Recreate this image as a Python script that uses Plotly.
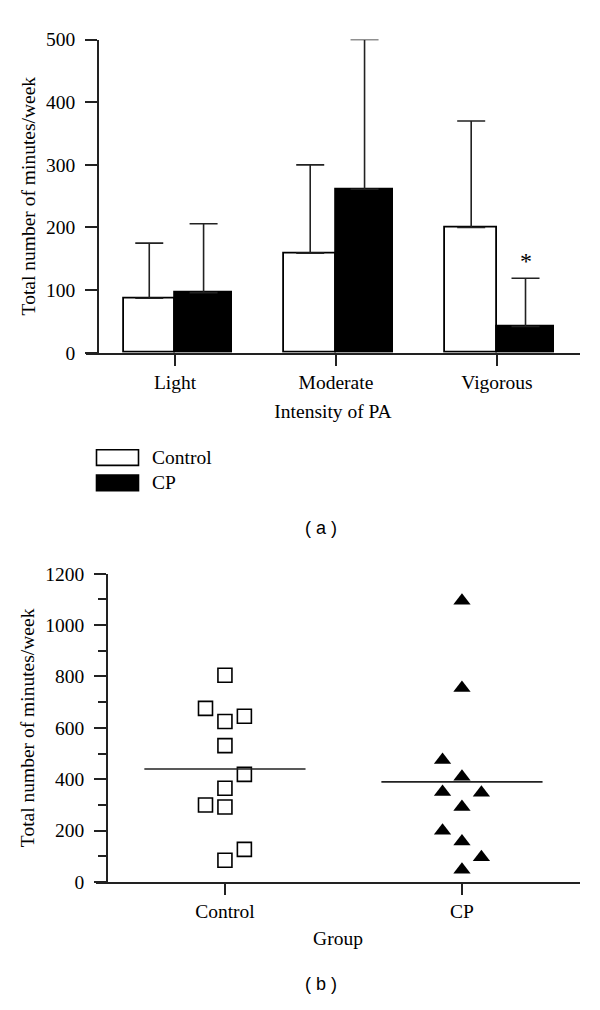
import plotly.graph_objects as go

# ---- Panel (a) data ----
intensity = ["Light", "Moderate", "Vigorous"]
control_mean_a = [87, 159, 200]
control_sd_a = [88, 141, 170]
cp_mean_a = [96, 261, 42]
cp_sd_a = [110, 239, 77]
group_names = ["Control", "CP"]
sig_label = "*"

# ---- Panel (b) data ----
groups_b = ["Control", "CP"]
control_vals = [805, 676, 625, 645, 531, 419, 365, 300, 292, 127, 85]
control_jitter = [0, -1, 0, 1, 0, 1, 0, -1, 0, 1, 0]
cp_vals = [1095, 755, 475, 410, 350, 348, 292, 200, 158, 97, 48]
cp_jitter = [0, 0, -1, 0, -1, 1, 0, -1, 0, 1, 0]
group_means = [440, 390]

# page body has an 8px margin; size the figure so it fits the 600x1010 window
OFF = 8
W, H = 600 - 2 * OFF, 1010 - 2 * OFF
SERIF = "Liberation Serif"
SANS = "Liberation Sans"
AX = "#222222"
FS = 19.5

def px_x(p):
    return (p - OFF) / W

def px_y(p):
    return 1 - (p - OFF) / H

fig = go.Figure()

xi = list(range(len(intensity)))
wc, wp = 0.32, 0.355

fig.add_trace(go.Bar(
    x=xi, y=control_mean_a, width=wc, offset=-wc, name=group_names[0],
    marker=dict(color="white", line=dict(color="black", width=1.8)),
    error_y=dict(type="data", array=control_sd_a, arrayminus=[0]*3, symmetric=False,
                 color=AX, thickness=1.6, width=14),
    xaxis="x", yaxis="y", showlegend=False))
fig.add_trace(go.Bar(
    x=xi, y=cp_mean_a, width=wp, offset=0, name=group_names[1],
    marker=dict(color="black", line=dict(color="black", width=1.8)),
    error_y=dict(type="data", array=cp_sd_a, arrayminus=[0]*3, symmetric=False,
                 color=AX, thickness=1.6, width=14),
    xaxis="x", yaxis="y", showlegend=False))

# panel (b)
jit = 0.082
fig.add_trace(go.Scatter(
    x=[0 + j * jit for j in control_jitter], y=control_vals, mode="markers",
    marker=dict(symbol="square-open", size=14, color="black", line=dict(width=1.6)),
    xaxis="x2", yaxis="y2", showlegend=False))
fig.add_trace(go.Scatter(
    x=[1 + j * jit for j in cp_jitter], y=cp_vals, mode="markers",
    marker=dict(symbol="triangle-up", size=15, color="black"),
    xaxis="x2", yaxis="y2", showlegend=False))
half = 0.34
for i, m in enumerate(group_means):
    fig.add_trace(go.Scatter(
        x=[i - half, i + half], y=[m, m], mode="lines",
        line=dict(color=AX, width=1.6), xaxis="x2", yaxis="y2", showlegend=False))

tickfont = dict(family=SERIF, size=FS, color="black")

fig.update_layout(
    width=W, height=H, margin=dict(l=0, r=0, t=0, b=0),
    paper_bgcolor="white", plot_bgcolor="white", bargap=0,
    xaxis=dict(domain=[px_x(86), px_x(580)], range=[-0.553, 2.516], anchor="y",
               tickmode="array", tickvals=xi, ticktext=intensity,
               showline=True, linecolor=AX, linewidth=1.8, ticks="outside",
               ticklen=11, tickwidth=1.8, tickcolor=AX, showgrid=False, zeroline=False,
               tickfont=tickfont,
               title=dict(text="Intensity of PA", font=tickfont, standoff=12)),
    yaxis=dict(domain=[px_y(350), px_y(30)], range=[0, 500], anchor="free",
               position=px_x(98), tickvals=[0, 100, 200, 300, 400, 500],
               showline=True, linecolor=AX, linewidth=1.8, ticks="outside",
               ticklen=12, tickwidth=1.8, tickcolor=AX, showgrid=False, zeroline=False,
               tickfont=tickfont, ticklabelstandoff=6,
               title=dict(text="Total number of minutes/week", font=tickfont, standoff=4)),
    xaxis2=dict(domain=[px_x(96), px_x(580)], range=[-0.544, 1.498], anchor="y2",
                tickmode="array", tickvals=[0, 1], ticktext=groups_b,
                showline=True, linecolor=AX, linewidth=1.8, ticks="outside",
                ticklen=11, tickwidth=1.8, tickcolor=AX, showgrid=False, zeroline=False,
                tickfont=tickfont,
                title=dict(text="Group", font=tickfont, standoff=10)),
    yaxis2=dict(domain=[px_y(890.7), px_y(575.7)], range=[0, 1200], anchor="free",
                position=px_x(107), tickvals=[0, 200, 400, 600, 800, 1000, 1200],
                showline=True, linecolor=AX, linewidth=1.8, ticks="outside",
                ticklen=12, tickwidth=1.8, tickcolor=AX, showgrid=False, zeroline=False,
                minor=dict(dtick=100, ticks="outside", ticklen=8, tickwidth=1.8, tickcolor=AX),
                tickfont=tickfont, ticklabelstandoff=6,
                title=dict(text="Total number of minutes/week", font=tickfont, standoff=4)),
)

# significance marker
fig.add_annotation(x=2 + wp / 2, y=cp_mean_a[2] + cp_sd_a[2], xref="x", yref="y",
                   text=sig_label, showarrow=False, yanchor="bottom", yshift=2,
                   font=dict(family=SERIF, size=24, color="black"))

# legend (custom)
leg_y = [457, 483]
fills = ["white", "black"]
for name, yc, fc in zip(group_names, leg_y, fills):
    fig.add_shape(type="rect", xref="paper", yref="paper",
                  x0=px_x(96.5), x1=px_x(138.5), y0=px_y(yc + 8), y1=px_y(yc - 8),
                  fillcolor=fc, line=dict(color="black", width=1.6))
    fig.add_annotation(x=px_x(150), y=px_y(yc), xref="paper", yref="paper",
                       text=name, showarrow=False, xanchor="left", yanchor="middle",
                       font=dict(family=SERIF, size=FS, color="black"))

# panel labels
for lab, yc in [("( a )", 529), ("( b )", 995)]:
    fig.add_annotation(x=px_x(321), y=px_y(yc), xref="paper", yref="paper",
                       text=lab, showarrow=False, xanchor="center", yanchor="middle",
                       font=dict(family=SANS, size=18, color="black"))

fig.write_html("out.html")
